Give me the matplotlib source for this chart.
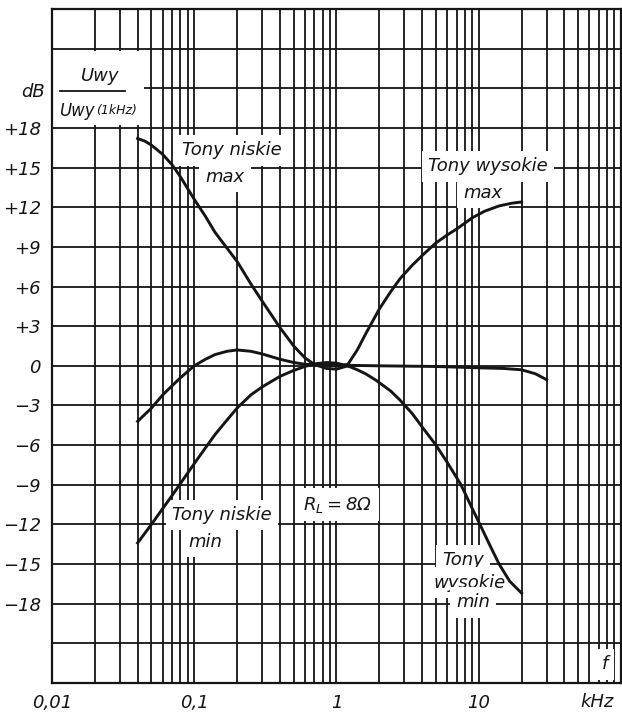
import matplotlib
matplotlib.use('Agg')
import matplotlib.pyplot as plt
from matplotlib import font_manager
from matplotlib.ticker import FixedLocator, NullFormatter

# pick a narrow font if there is one, the scan uses narrow technical lettering
FONT = 'DejaVu Sans'
for name in ['Liberation Sans Narrow', 'DejaVu Sans']:
    try:
        font_manager.findfont(font_manager.FontProperties(family=name), fallback_to_default=False)
        FONT = name
        break
    except ValueError:
        pass

# frequency in kHz, level in dB
niskie_max_f = [0.04, 0.045, 0.05, 0.06, 0.07, 0.08, 0.09, 0.1, 0.12, 0.14, 0.17, 0.2,
                0.25, 0.3, 0.4, 0.5, 0.6, 0.7, 0.85, 1.0, 1.2]
niskie_max_db = [17.2, 17.0, 16.7, 16.0, 15.2, 14.3, 13.4, 12.6, 11.3, 10.1, 8.9, 7.9,
                 6.2, 4.9, 2.9, 1.5, 0.6, 0.1, -0.2, -0.25, 0.0]

niskie_min_f = [0.04, 0.05, 0.06, 0.07, 0.08, 0.1, 0.12, 0.14, 0.17, 0.2, 0.25, 0.3,
                0.4, 0.5, 0.6, 0.7, 0.85, 1.0, 1.2]
niskie_min_db = [-13.4, -12.0, -10.8, -9.8, -8.9, -7.4, -6.2, -5.2, -4.1, -3.2, -2.2, -1.6,
                 -0.8, -0.35, -0.05, 0.15, 0.25, 0.2, 0.0]

srodek_f = [0.04, 0.05, 0.06, 0.07, 0.08, 0.1, 0.12, 0.14, 0.17, 0.2, 0.25, 0.3, 0.4, 0.5,
            0.6, 0.8, 1.0, 2.0, 5.0, 10.0, 15.0, 20.0, 25.0, 30.0]
srodek_db = [-4.2, -3.2, -2.2, -1.5, -0.9, 0.0, 0.5, 0.85, 1.1, 1.2, 1.1, 0.9, 0.5, 0.25,
             0.12, 0.08, 0.05, 0.0, -0.05, -0.15, -0.2, -0.3, -0.6, -1.05]

wysokie_max_f = [0.8, 1.0, 1.2, 1.4, 1.6, 1.8, 2.0, 2.4, 2.8, 3.4, 4.05, 5.0, 6.0, 7.1, 9.0,
                 11.0, 13.9, 17.0, 20.0]
wysokie_max_db = [0.1, 0.0, 0.1, 1.2, 2.4, 3.4, 4.3, 5.6, 6.6, 7.6, 8.4, 9.3, 9.9, 10.4, 11.2,
                  11.7, 12.1, 12.3, 12.4]

wysokie_min_f = [0.8, 1.0, 1.2, 1.4, 1.6, 1.9, 2.4, 2.8, 3.4, 4.05, 5.0, 6.0, 7.5, 9.0, 10.4,
                 12.0, 13.9, 16.5, 20.0]
wysokie_min_db = [0.1, 0.05, 0.0, -0.3, -0.6, -1.1, -1.9, -2.6, -3.6, -4.7, -6.0, -7.3, -9.0,
                  -10.8, -12.2, -13.6, -15.0, -16.3, -17.2]

y_ticks = list(range(-24, 28, 3))
y_labels = ['+%d' % v if v > 0 else ('0' if v == 0 else '\u2212%d' % -v) for v in y_ticks]
y_labels = [l if -18 <= v <= 18 else '' for v, l in zip(y_ticks, y_labels)]
x_ticks = [0.01, 0.1, 1, 10]
x_labels = ['0,01', '0,1', '1', '10']

plt.rcParams['font.family'] = [FONT, 'DejaVu Sans']
plt.rcParams['font.style'] = 'italic'
plt.rcParams['mathtext.fontset'] = 'custom'
plt.rcParams['mathtext.it'] = FONT + ':italic'
plt.rcParams['mathtext.rm'] = FONT + ':italic'

fig = plt.figure(figsize=(6.22, 7.15), dpi=100)
ax = fig.add_axes([52 / 622, 32 / 715, 569 / 622, 674 / 715])

ink = '#151515'
ax.set_xscale('log')
ax.set_xlim(0.01, 100)
ax.set_ylim(-24, 27)
ax.set_yticks(y_ticks)
ax.set_yticklabels(y_labels)
ax.set_xticks(x_ticks)
ax.set_xticklabels(x_labels)
ax.xaxis.set_minor_locator(FixedLocator([m * 10.0 ** e for e in range(-2, 2) for m in range(2, 10)]))
ax.xaxis.set_minor_formatter(NullFormatter())
ax.tick_params(which='both', length=0, labelsize=13, colors=ink, pad=8)
ax.grid(True, which='both', color=ink, linewidth=1.3)
ax.set_axisbelow(True)
for s in ax.spines.values():
    s.set_linewidth(1.6)
    s.set_color(ink)

for f, db in [(niskie_max_f, niskie_max_db), (niskie_min_f, niskie_min_db),
              (srodek_f, srodek_db), (wysokie_max_f, wysokie_max_db),
              (wysokie_min_f, wysokie_min_db)]:
    ax.plot(f, db, color=ink, linewidth=2.1, zorder=4, solid_joinstyle='round')

box = dict(boxstyle='square,pad=0.35', fc='white', ec='none')
kw = dict(fontsize=13, color=ink, ha='center', va='center', zorder=3, bbox=box)
ax.text(0.184, 16.3, 'Tony niskie', **kw)
ax.text(0.164, 14.3, 'max', **kw)
ax.text(11.6, 15.1, 'Tony wysokie', **kw)
ax.text(10.7, 13.1, 'max', **kw)
ax.text(0.157, -11.3, 'Tony niskie', **kw)
ax.text(0.119, -13.3, 'min', **kw)
ax.text(1.02, -10.5, r'$R_L = 8\Omega$', **kw)
ax.text(7.74, -14.7, 'Tony', **kw)
ax.text(8.67, -16.4, 'wysokie', **kw)
ax.text(9.12, -17.9, 'min', **kw)
ax.text(77, -22.6, 'f', **kw)

# white patch behind the axis title fraction
ax.add_patch(plt.Rectangle((0.0102, 18.2), 0.044 - 0.0102, 5.6, fc='white', ec='none', zorder=2.5))
ax.text(0.0217, 21.9, 'Uwy', fontsize=13, color=ink, ha='center', va='center', zorder=3)
ax.plot([0.0114, 0.0326], [20.8, 20.8], color=ink, linewidth=1.3, zorder=3)
den = ax.text(0.0112, 19.3, 'Uwy', fontsize=12, color=ink, ha='left', va='center', zorder=3)
ax.annotate('(1kHz)', xy=(1, 0.5), xycoords=den, xytext=(1, 0), textcoords='offset points',
            fontsize=9, color=ink, ha='left', va='center', zorder=3)
ax.text(0.00735, 20.7, 'dB', fontsize=13, color=ink, ha='center', va='center', clip_on=False)
ax.text(67.8, -25.4, 'kHz', fontsize=13, color=ink, ha='center', va='center', clip_on=False)

fig.savefig('out.png', dpi=100, facecolor='white')
